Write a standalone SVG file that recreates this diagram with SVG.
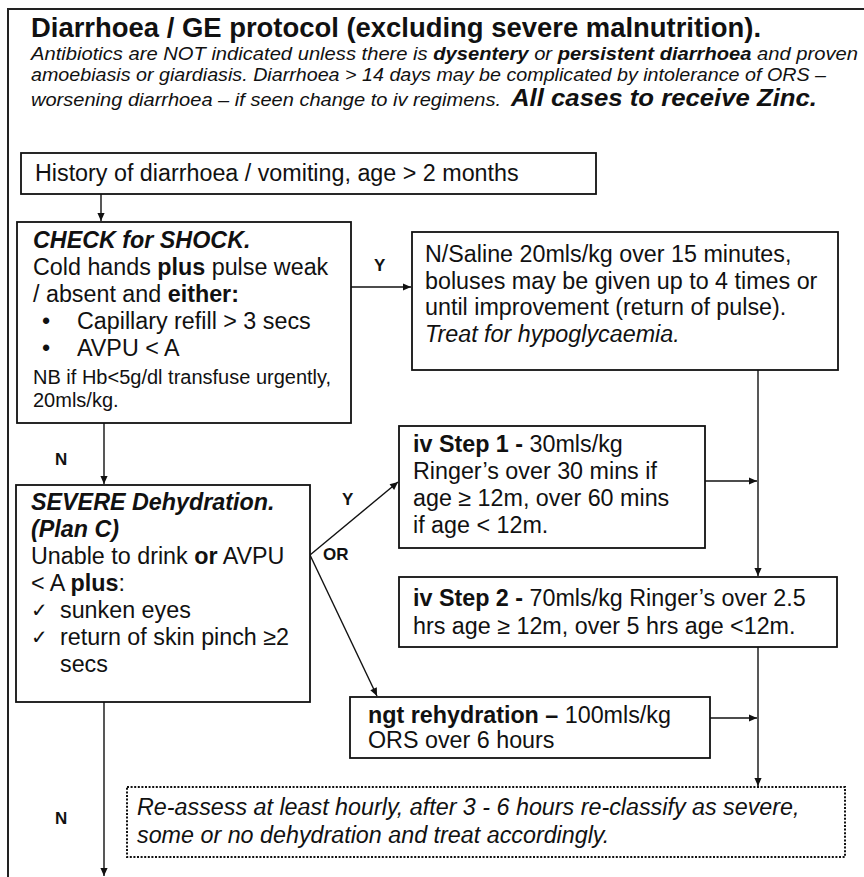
<svg xmlns="http://www.w3.org/2000/svg" width="864" height="877" viewBox="0 0 864 877">
  <style>
    text { font-family: "Liberation Sans", Arial, "DejaVu Sans", sans-serif; fill: #111; }
    .body { font-size: 23.3px; }
    .small { font-size: 20px; }
    .hdr { font-family: "Liberation Sans Narrow", "Liberation Sans", Arial, sans-serif; font-size: 19px; font-style: italic; }
    .title { font-family: "Liberation Sans Narrow", "Liberation Sans", Arial, sans-serif; font-size: 27px; font-weight: bold; }
    .b { font-weight: bold; }
    .i { font-style: italic; }
    .bi { font-weight: bold; font-style: italic; }
    .lbl { font-size: 17px; font-weight: bold; }
    .chk { font-family: "DejaVu Sans", sans-serif; font-size: 20px; }
    .box { fill: #fff; stroke: #111; stroke-width: 1.8; }
    .dotbox { fill: #fff; stroke: #111; stroke-width: 2; stroke-dasharray: 2 1.6; }
    .conn { fill: none; stroke: #111; stroke-width: 1.4; }
    .frame { fill: none; stroke: #222; stroke-width: 2; }
  </style>
  <defs>
    <marker id="ah" viewBox="0 0 10 10" refX="10" refY="5" markerWidth="9" markerHeight="8" markerUnits="userSpaceOnUse" orient="auto">
      <path d="M0,0.5 L10,5 L0,9.5 z" fill="#111"/>
    </marker>
  </defs>

  <rect width="864" height="877" fill="#fff"/>

  <!-- page frame (runs off the right and bottom edges) -->
  <path class="frame" d="M8,877 V9 H864"/>

  <!-- heading and notes -->
  <g id="header">
    <text class="title" x="31" y="37" textLength="730" lengthAdjust="spacingAndGlyphs">Diarrhoea / GE protocol (excluding severe malnutrition).</text>
    <text class="hdr" x="31" y="60" textLength="827" lengthAdjust="spacingAndGlyphs">Antibiotics are NOT indicated unless there is <tspan class="b">dysentery</tspan> or <tspan class="b">persistent diarrhoea</tspan> and proven</text>
    <text class="hdr" x="31" y="81" textLength="795" lengthAdjust="spacingAndGlyphs">amoebiasis or giardiasis. Diarrhoea &gt; 14 days may be complicated by intolerance of ORS –</text>
    <text class="hdr" x="31" y="106" textLength="470" lengthAdjust="spacingAndGlyphs">worsening diarrhoea – if seen change to iv regimens.</text>
    <text class="bi" x="511" y="106" font-size="23px" textLength="306" lengthAdjust="spacingAndGlyphs">All cases to receive Zinc.</text>
  </g>

  <!-- connectors -->
  <g id="connectors">
    <path class="conn" d="M101,194 V221" marker-end="url(#ah)"/>
    <path class="conn" d="M351,287 H411" marker-end="url(#ah)"/>
    <path class="conn" d="M104,423 V484" marker-end="url(#ah)"/>
    <path class="conn" d="M310,555 L398,482" marker-end="url(#ah)"/>
    <path class="conn" d="M310,555 L377,696" marker-end="url(#ah)"/>
    <path class="conn" d="M758,370 V576" marker-end="url(#ah)"/>
    <path class="conn" d="M705,481 H757" marker-end="url(#ah)"/>
    <path class="conn" d="M758,647 V786" marker-end="url(#ah)"/>
    <path class="conn" d="M710,718 H757" marker-end="url(#ah)"/>
    <path class="conn" d="M104,702 V876" marker-end="url(#ah)"/>
    <text class="lbl" x="374" y="271">Y</text>
    <text class="lbl" x="55" y="465">N</text>
    <text class="lbl" x="342" y="505">Y</text>
    <text class="lbl" x="323" y="560">OR</text>
    <text class="lbl" x="55" y="824">N</text>
  </g>

  <g id="history">
    <rect class="box" x="21" y="153" width="575" height="41"/>
    <text class="body" x="35" y="181">History of diarrhoea / vomiting, age &gt; 2 months</text>
  </g>

  <g id="check-shock">
    <rect class="box" x="17" y="222" width="334" height="201"/>
    <text class="body bi" x="33" y="248">CHECK for SHOCK.</text>
    <text class="body" x="33" y="275">Cold hands <tspan class="b">plus</tspan> pulse weak</text>
    <text class="body" x="33" y="302">/ absent and <tspan class="b">either:</tspan></text>
    <text class="body" x="42" y="329">•</text>
    <text class="body" x="77" y="329">Capillary refill &gt; 3 secs</text>
    <text class="body" x="42" y="356">•</text>
    <text class="body" x="77" y="356">AVPU &lt; A</text>
    <text class="small" x="33" y="384">NB if Hb&lt;5g/dl transfuse urgently,</text>
    <text class="small" x="33" y="407">20mls/kg.</text>
  </g>

  <g id="saline">
    <rect class="box" x="412" y="232" width="426" height="138"/>
    <text class="body" x="425" y="262">N/Saline 20mls/kg over 15 minutes,</text>
    <text class="body" x="425" y="289">boluses may be given up to 4 times or</text>
    <text class="body" x="425" y="315">until improvement (return of pulse).</text>
    <text class="body i" x="425" y="342">Treat for hypoglycaemia.</text>
  </g>

  <g id="severe">
    <rect class="box" x="16" y="485" width="294" height="217"/>
    <text class="body bi" x="31" y="510">SEVERE Dehydration.</text>
    <text class="body bi" x="31" y="537">(Plan C)</text>
    <text class="body" x="31" y="564">Unable to drink <tspan class="b">or</tspan> AVPU</text>
    <text class="body" x="31" y="591">&lt; A <tspan class="b">plus</tspan>:</text>
    <text class="chk" x="31" y="617">✓</text>
    <text class="body" x="60" y="618">sunken eyes</text>
    <text class="chk" x="31" y="644">✓</text>
    <text class="body" x="60" y="645">return of skin pinch ≥2</text>
    <text class="body" x="60" y="672">secs</text>
  </g>

  <g id="iv-step-1">
    <rect class="box" x="399" y="426" width="306" height="122"/>
    <text class="body" x="413" y="452"> <tspan class="b">iv Step 1 -</tspan> 30mls/kg</text>
    <text class="body" x="413" y="479">Ringer’s over 30 mins if</text>
    <text class="body" x="413" y="506">age ≥ 12m, over 60 mins</text>
    <text class="body" x="413" y="533">if age &lt; 12m.</text>
  </g>

  <g id="iv-step-2">
    <rect class="box" x="399" y="577" width="438" height="70"/>
    <text class="body" x="413" y="606"> <tspan class="b">iv Step 2 -</tspan> 70mls/kg Ringer’s over 2.5</text>
    <text class="body" x="413" y="634">hrs age ≥ 12m, over 5 hrs age &lt;12m.</text>
  </g>

  <g id="ngt">
    <rect class="box" x="350" y="697" width="360" height="61"/>
    <text class="body" x="368" y="723"><tspan class="b">ngt rehydration –</tspan> 100mls/kg</text>
    <text class="body" x="368" y="748">ORS over 6 hours</text>
  </g>

  <g id="reassess">
    <rect class="dotbox" x="127" y="787" width="718" height="70"/>
    <text class="body i" x="137" y="815">Re-assess at least hourly, after 3 - 6 hours re-classify as severe,</text>
    <text class="body i" x="137" y="843">some or no dehydration and treat accordingly.</text>
  </g>
</svg>
